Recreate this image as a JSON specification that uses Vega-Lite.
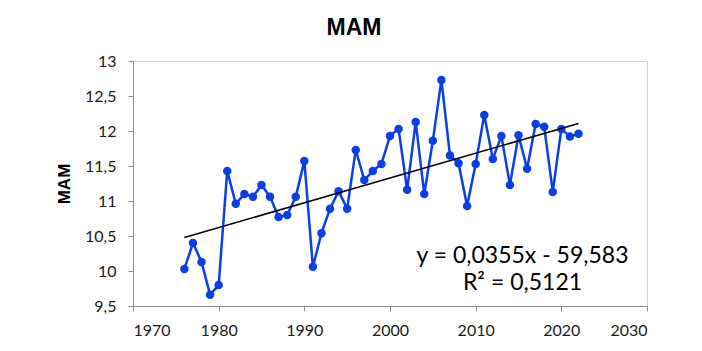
{
  "$schema": "https://vega.github.io/schema/vega-lite/v6.json",
  "width": 514,
  "height": 245,
  "autosize": {"type": "none"},
  "padding": {"left": 133, "top": 61, "right": 55, "bottom": 45},
  "background": "white",
  "title": {
    "text": "MAM",
    "font": "Liberation Sans",
    "fontSize": 23,
    "fontWeight": "bold",
    "color": "black",
    "anchor": "middle",
    "frame": "group",
    "dx": -36,
    "offset": -5,
    "baseline": "alphabetic"
  },
  "config": {
    "view": {"stroke": "#d0d0d0", "strokeWidth": 1},
    "axis": {
      "grid": false,
      "domainColor": "#8c8c8c",
      "tickColor": "#8c8c8c",
      "tickSize": 5,
      "labelFont": "Lato",
      "labelFontSize": 16,
      "labelColor": "#1a1a1a"
    }
  },
  "data": {
    "values": [
      {"year": 1976, "value": 10.03},
      {"year": 1977, "value": 10.40},
      {"year": 1978, "value": 10.13},
      {"year": 1979, "value": 9.66},
      {"year": 1980, "value": 9.80},
      {"year": 1981, "value": 11.43},
      {"year": 1982, "value": 10.96},
      {"year": 1983, "value": 11.10},
      {"year": 1984, "value": 11.06},
      {"year": 1985, "value": 11.23},
      {"year": 1986, "value": 11.06},
      {"year": 1987, "value": 10.77},
      {"year": 1988, "value": 10.80},
      {"year": 1989, "value": 11.06},
      {"year": 1990, "value": 11.57},
      {"year": 1991, "value": 10.06},
      {"year": 1992, "value": 10.54},
      {"year": 1993, "value": 10.89},
      {"year": 1994, "value": 11.14},
      {"year": 1995, "value": 10.89},
      {"year": 1996, "value": 11.73},
      {"year": 1997, "value": 11.30},
      {"year": 1998, "value": 11.43},
      {"year": 1999, "value": 11.53},
      {"year": 2000, "value": 11.93},
      {"year": 2001, "value": 12.03},
      {"year": 2002, "value": 11.16},
      {"year": 2003, "value": 12.13},
      {"year": 2004, "value": 11.10},
      {"year": 2005, "value": 11.86},
      {"year": 2006, "value": 12.73},
      {"year": 2007, "value": 11.65},
      {"year": 2008, "value": 11.54},
      {"year": 2009, "value": 10.93},
      {"year": 2010, "value": 11.53},
      {"year": 2011, "value": 12.23},
      {"year": 2012, "value": 11.60},
      {"year": 2013, "value": 11.93},
      {"year": 2014, "value": 11.23},
      {"year": 2015, "value": 11.94},
      {"year": 2016, "value": 11.46},
      {"year": 2017, "value": 12.10},
      {"year": 2018, "value": 12.06},
      {"year": 2019, "value": 11.13},
      {"year": 2020, "value": 12.03},
      {"year": 2021, "value": 11.92},
      {"year": 2022, "value": 11.96}
    ]
  },
  "encoding": {
    "x": {
      "field": "year",
      "type": "quantitative",
      "scale": {"domain": [1970, 2030], "nice": false, "zero": false},
      "axis": {
        "title": null,
        "values": [1970, 1980, 1990, 2000, 2010, 2020, 2030],
        "format": "d",
        "labelPadding": 11
      }
    },
    "y": {
      "field": "value",
      "type": "quantitative",
      "scale": {"domain": [9.5, 13], "nice": false, "zero": false},
      "axis": {
        "title": "MAM",
        "titleFont": "Liberation Sans",
        "titleFontSize": 17,
        "titleFontWeight": "bold",
        "titleColor": "black",
        "titlePadding": 11,
        "values": [9.5, 10, 10.5, 11, 11.5, 12, 12.5, 13],
        "labelExpr": "replace(replace(format(datum.value, '.1f'), '.0', ''), '.', ',')",
        "labelPadding": 12
      }
    }
  },
  "layer": [
    {
      "mark": {"type": "line", "color": "#0a3fe8", "strokeWidth": 2.5}
    },
    {
      "mark": {"type": "point", "filled": true, "color": "#0a3fe8", "size": 72, "opacity": 1}
    },
    {
      "transform": [
        {"regression": "value", "on": "year", "extent": [1976, 2022]}
      ],
      "mark": {"type": "line", "color": "black", "strokeWidth": 1.5}
    },
    {
      "data": {
        "values": [
          {"year": 2015.47, "value": 10.11, "label": "y = 0,0355x - 59,583"},
          {"year": 2015.47, "value": 9.725, "label": "R² = 0,5121"}
        ]
      },
      "mark": {"type": "text", "font": "Lato", "fontSize": 23, "color": "black", "align": "center", "baseline": "alphabetic"},
      "encoding": {"text": {"field": "label", "type": "nominal"}}
    }
  ]
}
